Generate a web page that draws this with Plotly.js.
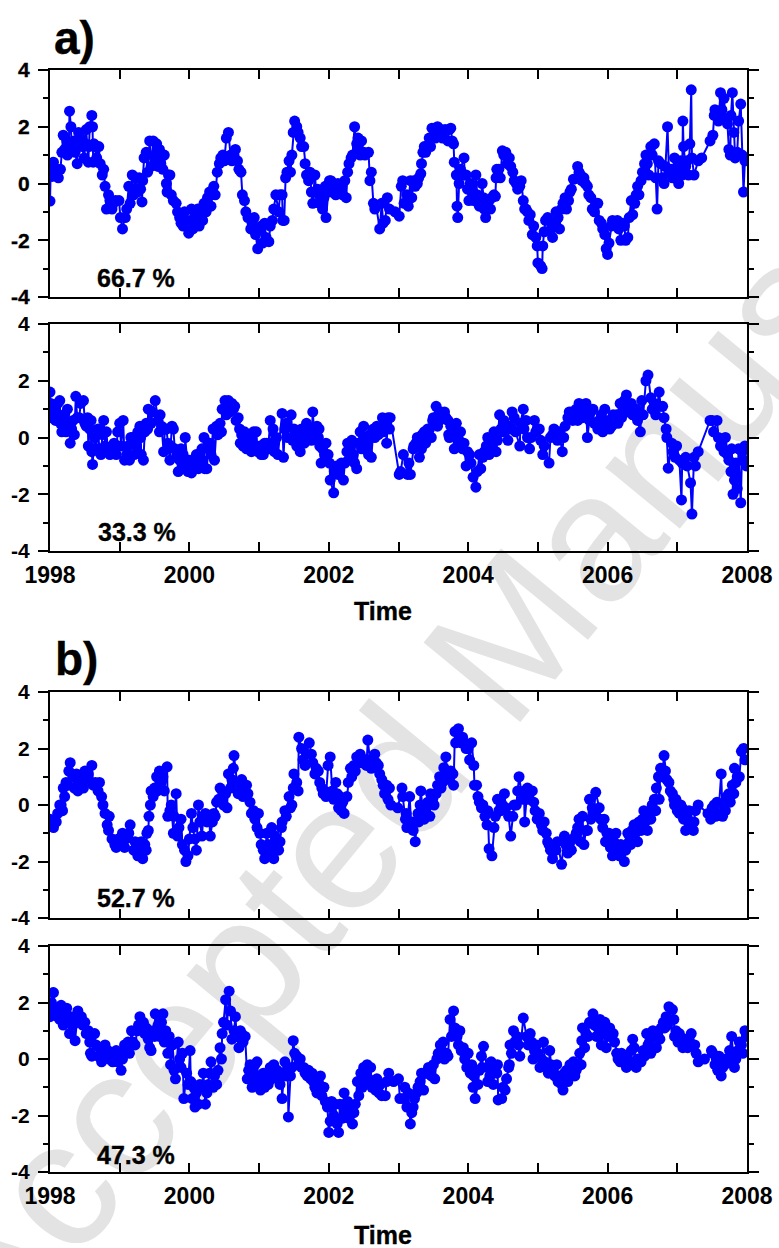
<!DOCTYPE html>
<html>
<head>
<meta charset="utf-8">
<script src="https://cdn.plot.ly/plotly-3.0.1.min.js"></script>
<style>
html,body{margin:0;padding:0;background:#fff;}
#wrap{position:relative;width:779px;height:1248px;overflow:hidden;}
#wm{position:absolute;left:0;top:0;z-index:0;}
#chart{position:absolute;left:0;top:0;z-index:1;width:779px;height:1248px;}
#chart .xtick text, #chart .ytick text, #chart .annotation-text{stroke:#000;stroke-width:0.35px;}
</style>
</head>
<body>
<div id="wrap">
<svg id="wm" width="779" height="1248" xmlns="http://www.w3.org/2000/svg">
<text id="wmtext" x="-4" y="1358" transform="rotate(-50.5 -4 1358)" font-family="Liberation Sans, Arial, sans-serif" font-size="182" fill="#e3e3e3">Accepted Manuscript</text>
</svg>
<div id="chart"></div>
</div>
<script>
// ---------- tick labels ----------
const yearTicks = [1998,1999,2000,2001,2002,2003,2004,2005,2006,2007,2008];
const yearLabels = ['1998','','2000','','2002','','2004','','2006','','2008'];
const yTicks = [-4,-2,0,2,4];
const yTickLabels = ['-4','-2','0','2','4'];
const yMinorTicks = [-3,-1,1,3];
const panelLabels = ['a)','b)'];
const percentLabels = ['66.7 %','33.3 %','52.7 %','47.3 %'];
const xTitle = 'Time';

// ---------- panel a, upper ----------
const a1T = [1998.00,1998.01,1998.03,1998.05,1998.07,1998.10,1998.12,1998.15,1998.17,1998.19,1998.21,1998.24,1998.25,1998.27,1998.28,1998.30,1998.31,1998.34,1998.36,1998.39,1998.41,1998.44,1998.46,1998.49,1998.51,1998.52,1998.55,1998.56,1998.57,1998.60,1998.61,1998.62,1998.63,1998.65,1998.67,1998.70,1998.72,1998.75,1998.77,1998.79,1998.81,1998.84,1998.86,1998.89,1998.91,1998.94,1998.99,1999.01,1999.04,1999.08,1999.10,1999.13,1999.15,1999.18,1999.20,1999.23,1999.25,1999.28,1999.30,1999.32,1999.33,1999.35,1999.38,1999.40,1999.43,1999.45,1999.48,1999.50,1999.53,1999.55,1999.57,1999.59,1999.62,1999.64,1999.67,1999.68,1999.70,1999.72,1999.74,1999.77,1999.81,1999.83,1999.86,1999.88,1999.91,1999.93,1999.95,1999.99,2000.01,2000.03,2000.05,2000.07,2000.10,2000.12,2000.14,2000.16,2000.19,2000.21,2000.24,2000.26,2000.29,2000.31,2000.35,2000.37,2000.40,2000.43,2000.45,2000.48,2000.50,2000.53,2000.56,2000.59,2000.61,2000.64,2000.66,2000.69,2000.71,2000.74,2000.76,2000.79,2000.81,2000.84,2000.88,2000.90,2000.93,2000.95,2000.98,2001.00,2001.03,2001.05,2001.08,2001.10,2001.14,2001.16,2001.19,2001.21,2001.24,2001.28,2001.30,2001.33,2001.34,2001.36,2001.38,2001.40,2001.43,2001.45,2001.47,2001.49,2001.51,2001.54,2001.56,2001.59,2001.61,2001.64,2001.66,2001.68,2001.71,2001.73,2001.75,2001.77,2001.80,2001.82,2001.84,2001.86,2001.87,2001.89,2001.91,2001.93,2001.95,2001.96,2001.99,2002.01,2002.03,2002.05,2002.08,2002.10,2002.13,2002.15,2002.18,2002.20,2002.23,2002.25,2002.27,2002.29,2002.32,2002.34,2002.37,2002.40,2002.41,2002.42,2002.45,2002.47,2002.50,2002.52,2002.57,2002.59,2002.61,2002.64,2002.66,2002.68,2002.73,2002.76,2002.78,2002.81,2002.84,2002.87,2002.95,2003.01,2003.04,2003.06,2003.08,2003.12,2003.14,2003.17,2003.19,2003.22,2003.24,2003.27,2003.29,2003.32,2003.33,2003.35,2003.37,2003.39,2003.40,2003.44,2003.46,2003.48,2003.51,2003.53,2003.56,2003.58,2003.61,2003.63,2003.67,2003.71,2003.73,2003.75,2003.77,2003.79,2003.80,2003.83,2003.84,2003.85,2003.87,2003.89,2003.94,2003.95,2003.97,2003.99,2004.01,2004.03,2004.06,2004.08,2004.11,2004.13,2004.16,2004.18,2004.20,2004.22,2004.23,2004.25,2004.28,2004.30,2004.32,2004.34,2004.37,2004.39,2004.40,2004.41,2004.44,2004.46,2004.49,2004.51,2004.54,2004.56,2004.59,2004.61,2004.64,2004.66,2004.69,2004.71,2004.74,2004.76,2004.79,2004.81,2004.83,2004.85,2004.87,2004.89,2004.92,2004.94,2004.97,2004.99,2005.00,2005.04,2005.06,2005.07,2005.09,2005.11,2005.14,2005.19,2005.21,2005.24,2005.26,2005.29,2005.31,2005.34,2005.36,2005.39,2005.41,2005.44,2005.46,2005.48,2005.51,2005.57,2005.59,2005.61,2005.63,2005.66,2005.68,2005.71,2005.73,2005.76,2005.78,2005.81,2005.83,2005.86,2005.88,2005.91,2005.93,2005.96,2005.98,2006.00,2006.02,2006.05,2006.07,2006.11,2006.14,2006.16,2006.19,2006.21,2006.24,2006.26,2006.29,2006.31,2006.34,2006.36,2006.39,2006.41,2006.43,2006.45,2006.48,2006.50,2006.53,2006.55,2006.57,2006.59,2006.62,2006.64,2006.67,2006.69,2006.71,2006.73,2006.76,2006.78,2006.81,2006.83,2006.86,2006.88,2006.91,2006.93,2006.96,2006.98,2007.00,2007.02,2007.05,2007.07,2007.08,2007.09,2007.12,2007.14,2007.16,2007.18,2007.20,2007.21,2007.24,2007.30,2007.35,2007.47,2007.51,2007.53,2007.54,2007.57,2007.59,2007.62,2007.64,2007.67,2007.69,2007.72,2007.74,2007.76,2007.77,2007.79,2007.81,2007.83,2007.86,2007.88,2007.91,2007.93,2007.95,2007.97];
const a1V = [-0.62,0.45,0.25,0.75,0.3,0.5,0.2,0.5,1.1,1.7,1.2,1.5,1.0,1.3,2.55,2.0,1.3,1.5,1.1,0.7,1.8,1.6,1.3,0.9,1.4,1.9,0.75,1.3,2.0,2.4,2.0,0.75,1.4,1.3,0.9,1.3,0.7,0.3,0.5,-0.1,-0.9,-0.4,-0.6,-0.9,-0.7,-0.6,-0.6,-1.2,-1.6,-1.2,-0.9,-0.1,-0.7,0.3,-0.4,0.2,-0.3,0.2,-0.2,-0.65,0.1,0.9,1.1,0.4,1.5,0.6,1.5,0.9,1.4,0.6,1.2,0.7,0.5,1.0,0.0,-0.3,0.3,0.3,-0.4,-0.6,-0.7,-1.0,-1.2,-1.4,-1.5,-1.0,-1.3,-1.75,-1.3,-0.9,-1.6,-1.0,-1.4,-0.9,-1.5,-1.0,-1.3,-0.7,-1.0,-0.5,-0.3,-0.8,-0.1,-0.4,0.4,0.7,0.9,1.0,0.8,1.6,1.8,1.0,0.8,1.0,1.2,0.8,0.5,0.4,-0.4,-0.6,-1.0,-1.2,-1.6,-1.4,-1.2,-1.8,-2.3,-1.6,-1.5,-2.1,-1.4,-1.9,-2.05,-1.5,-1.3,-0.9,-0.4,-1.0,-0.4,-0.4,-1.3,-1.3,0.2,0.4,0.8,0.4,1.0,1.8,2.2,2.0,1.8,1.6,1.3,1.3,0.7,0.3,0.1,0.4,-0.3,-0.7,0.3,-0.3,-0.2,-0.4,-0.7,-0.4,-0.9,-0.5,-0.1,-1.2,-0.3,0.1,0.1,-0.3,-0.1,-0.4,0.0,-0.3,-0.1,-0.4,0.1,-0.5,0.4,0.7,0.9,1.0,2.0,1.4,1.1,1.6,1.0,1.5,1.1,1.0,1.1,0.1,0.4,-0.7,-0.9,-0.8,-1.6,-0.7,-1.4,-1.3,-0.5,-0.9,-1.0,-1.15,-0.1,0.1,-0.7,-0.4,-0.8,0.1,-0.5,0.1,-0.1,0.0,0.2,0.35,0.7,1.1,1.3,1.1,1.3,1.6,1.3,1.95,1.9,1.6,2.0,1.8,1.9,1.6,1.9,1.5,1.9,1.95,1.5,1.4,0.75,0.3,-0.8,-1.2,0.0,0.5,0.9,0.3,0.3,-0.2,-0.6,0.0,-0.3,-0.6,0.3,-0.4,-0.8,-0.6,0.0,-0.5,-0.9,-1.2,-0.9,-0.6,-0.9,-0.5,-0.4,-0.45,0.2,0.5,0.5,0.2,1.15,1.0,1.1,0.7,0.9,0.6,0.4,0.1,0.0,-0.2,-0.1,0.1,-0.6,-0.9,-0.9,-1.0,-1.3,-1.1,-1.8,-1.5,-1.9,-2.2,-2.8,-2.9,-3.0,-2.2,-1.7,-1.3,-1.2,-1.6,-1.9,-1.4,-1.0,-1.2,-1.6,-0.9,-0.7,-0.5,-0.9,-0.6,-0.3,-0.2,0.15,0.6,0.4,0.3,0.1,0.2,0.0,-0.1,-0.4,-0.5,-0.9,-1.0,-0.7,-0.7,-1.3,-1.4,-1.6,-1.8,-2.3,-2.5,-2.1,-1.5,-1.3,-1.4,-1.3,-1.6,-2.0,-1.4,-1.5,-2.0,-1.9,-1.2,-0.6,-1.1,-0.7,-0.4,-0.1,-0.4,0.1,0.4,0.7,1.0,0.7,0.3,1.3,1.0,1.4,0.2,-0.9,0.8,0.7,0.2,0.0,0.6,2.0,0.4,0.5,0.2,0.9,0.4,0.6,0.0,0.8,0.3,2.2,1.3,0.6,0.8,0.3,1.4,3.3,0.9,0.3,0.8,0.9,1.5,1.7,2.4,2.6,2.4,2.2,3.2,2.6,3.0,2.3,2.1,1.2,1.0,2.4,3.2,1.8,0.9,1.1,2.2,2.8,1.0,-0.3,0.8];

// ---------- panel a, lower ----------
const a2T = [1998.00,1998.01,1998.02,1998.06,1998.08,1998.11,1998.13,1998.14,1998.15,1998.17,1998.19,1998.21,1998.23,1998.25,1998.27,1998.29,1998.31,1998.33,1998.35,1998.37,1998.39,1998.42,1998.44,1998.48,1998.50,1998.52,1998.54,1998.55,1998.57,1998.59,1998.60,1998.61,1998.64,1998.66,1998.69,1998.71,1998.73,1998.75,1998.77,1998.79,1998.81,1998.83,1998.86,1998.88,1998.90,1998.92,1998.95,1998.97,1999.00,1999.02,1999.05,1999.07,1999.10,1999.12,1999.14,1999.16,1999.19,1999.21,1999.24,1999.26,1999.29,1999.30,1999.31,1999.34,1999.36,1999.38,1999.40,1999.41,1999.45,1999.47,1999.51,1999.55,1999.57,1999.58,1999.60,1999.63,1999.65,1999.67,1999.69,1999.72,1999.73,1999.75,1999.77,1999.79,1999.82,1999.84,1999.86,1999.88,1999.91,1999.93,1999.94,1999.98,2000.00,2000.03,2000.05,2000.08,2000.10,2000.13,2000.15,2000.18,2000.19,2000.21,2000.22,2000.25,2000.27,2000.29,2000.31,2000.34,2000.36,2000.39,2000.41,2000.44,2000.46,2000.47,2000.51,2000.53,2000.56,2000.58,2000.61,2000.63,2000.65,2000.67,2000.70,2000.72,2000.73,2000.75,2000.77,2000.79,2000.82,2000.84,2000.87,2000.89,2000.92,2000.94,2000.96,2000.98,2001.01,2001.03,2001.06,2001.08,2001.11,2001.13,2001.16,2001.18,2001.20,2001.22,2001.25,2001.27,2001.33,2001.35,2001.37,2001.39,2001.41,2001.46,2001.48,2001.50,2001.52,2001.54,2001.56,2001.59,2001.61,2001.63,2001.65,2001.68,2001.70,2001.73,2001.75,2001.77,2001.79,2001.83,2001.85,2001.86,2001.87,2001.89,2001.91,2001.94,2001.96,2001.99,2002.01,2002.02,2002.07,2002.08,2002.11,2002.13,2002.16,2002.18,2002.21,2002.23,2002.26,2002.27,2002.28,2002.31,2002.33,2002.35,2002.37,2002.40,2002.42,2002.45,2002.47,2002.50,2002.52,2002.55,2002.57,2002.59,2002.61,2002.64,2002.66,2002.69,2002.71,2002.77,2002.78,2002.81,2002.83,2002.85,2002.87,2002.88,2003.01,2003.03,2003.07,2003.13,2003.15,2003.17,2003.21,2003.22,2003.25,2003.27,2003.30,2003.33,2003.34,2003.37,2003.39,2003.42,2003.44,2003.47,2003.49,2003.50,2003.54,2003.56,2003.59,2003.61,2003.66,2003.68,2003.71,2003.72,2003.73,2003.75,2003.78,2003.80,2003.83,2003.84,2003.85,2003.87,2003.89,2003.92,2003.94,2003.97,2003.99,2004.02,2004.04,2004.07,2004.11,2004.13,2004.16,2004.18,2004.21,2004.23,2004.26,2004.28,2004.30,2004.32,2004.35,2004.37,2004.40,2004.42,2004.45,2004.47,2004.49,2004.51,2004.57,2004.59,2004.61,2004.63,2004.66,2004.68,2004.74,2004.75,2004.79,2004.80,2004.83,2004.85,2004.88,2004.90,2004.95,2004.97,2005.02,2005.04,2005.07,2005.09,2005.16,2005.18,2005.21,2005.23,2005.28,2005.30,2005.35,2005.37,2005.39,2005.43,2005.45,2005.48,2005.50,2005.55,2005.57,2005.59,2005.61,2005.64,2005.66,2005.69,2005.71,2005.74,2005.76,2005.79,2005.81,2005.86,2005.88,2005.91,2005.93,2005.96,2005.98,2006.01,2006.03,2006.06,2006.08,2006.13,2006.15,2006.18,2006.20,2006.22,2006.24,2006.27,2006.29,2006.34,2006.36,2006.41,2006.43,2006.47,2006.49,2006.51,2006.55,2006.58,2006.62,2006.64,2006.67,2006.69,2006.74,2006.76,2006.79,2006.81,2006.84,2006.85,2006.87,2006.92,2006.94,2006.97,2006.99,2007.03,2007.06,2007.07,2007.12,2007.14,2007.19,2007.21,2007.24,2007.26,2007.30,2007.47,2007.50,2007.52,2007.57,2007.59,2007.62,2007.64,2007.67,2007.69,2007.72,2007.74,2007.77,2007.78,2007.80,2007.82,2007.84,2007.86,2007.88,2007.91,2007.93,2007.95,2007.97,2007.99];
const a2V = [1.6,1.2,0.7,1.0,0.6,1.2,0.8,1.3,0.5,0.2,0.4,0.8,0.2,1.0,0.5,-0.2,0.3,0.6,0.1,1.45,0.7,0.7,1.2,1.3,0.5,0.4,0.7,-0.3,0.3,0.6,-0.5,-0.95,0.0,-0.4,0.3,-0.5,-0.6,0.1,0.6,-0.3,0.2,-0.5,-0.6,-0.4,-0.5,-0.2,-0.6,0.2,0.5,-0.3,0.6,-0.8,-0.6,-0.3,-0.8,0.0,0.0,-0.6,-0.3,0.2,0.4,0.0,-0.6,-0.8,0.2,0.5,0.3,1.0,0.5,0.9,1.3,0.6,0.2,0.8,0.4,-0.5,0.3,0.3,-0.2,-0.8,-0.3,0.4,0.3,-0.4,-0.6,-1.2,-0.8,-0.4,-0.6,-1.0,0.0,-1.2,-0.8,-1.25,-0.9,-1.0,-0.6,-1.1,-0.8,-0.4,-0.8,0.0,-1.1,-1.1,-0.4,-0.2,-0.6,0.3,-0.8,0.4,0.1,0.5,0.2,1.0,1.3,0.8,1.3,0.9,1.2,1.0,1.1,0.6,0.7,0.3,-0.2,0.1,-0.3,0.2,-0.4,0.0,-0.2,-0.5,0.2,-0.4,0.2,-0.5,-0.3,-0.6,-0.6,-0.2,-0.2,-0.4,0.6,-0.2,0.3,-0.5,0.0,-0.6,0.85,-0.7,0.3,0.5,0.0,0.8,-0.1,0.3,0.0,-0.3,0.1,-0.5,0.3,0.1,-0.2,0.5,0.1,0.3,-0.1,0.9,0.2,0.4,0.0,0.3,-0.3,-0.9,-0.4,-0.6,-0.2,-0.6,-0.9,-1.5,-1.95,-1.2,-1.0,-1.3,-1.0,-0.9,-1.5,-0.9,-0.5,-0.2,-0.8,-0.4,-0.1,-0.6,-0.9,-1.1,-0.2,0.2,-0.4,0.4,0.0,-0.3,-0.6,0.1,-0.7,0.3,0.0,0.4,0.1,0.7,0.2,0.6,-0.2,0.7,0.3,0.7,-1.3,-1.2,-0.6,-1.3,-0.9,-1.3,-0.4,-0.3,-0.2,0.0,-0.7,-0.4,0.1,0.2,-0.2,0.3,0.27,0.0,0.6,0.7,1.1,0.4,0.6,0.9,0.9,0.7,0.6,0.1,0.0,0.4,0.2,-0.4,0.5,0.0,-0.3,-0.1,0.2,-0.4,-0.2,-1.0,-0.5,-0.6,-0.9,-1.4,-1.75,-1.2,-0.6,-1.1,-0.7,-0.5,-0.3,0.0,-0.6,-0.3,-0.4,0.2,-0.5,-0.1,0.8,0.3,0.2,0.6,-0.1,0.4,0.3,0.9,0.7,0.2,-0.3,0.5,1.0,0.3,0.6,0.0,-0.4,0.0,0.6,0.2,0.3,-0.1,-0.6,-0.3,-0.9,0.0,0.1,0.3,-0.1,0.2,-0.5,0.0,0.4,0.7,0.9,0.9,0.6,1.0,0.6,1.2,0.8,0.7,1.0,1.2,0.0,0.6,0.9,1.0,0.5,0.3,0.6,0.8,0.2,1.0,0.5,0.6,0.3,0.4,0.8,0.8,0.5,1.2,0.7,1.0,1.3,1.5,0.9,1.2,0.8,1.0,0.6,0.2,1.3,0.8,2.0,2.2,1.4,1.0,1.2,0.8,1.6,1.1,1.1,0.7,0.3,0.0,-1.08,-0.2,-0.5,-0.7,-0.3,-0.8,-2.2,-0.9,-0.7,-1.0,-1.6,-2.7,-0.7,-1.0,-0.5,0.6,0.6,0.2,0.6,0.0,-0.3,-0.1,-0.5,0.0,-0.6,-0.8,-1.2,-0.4,-2.0,-1.5,-0.9,-1.8,-0.4,-2.3,-0.5,-0.8,-0.3,-1.0];

// ---------- panel b, upper ----------
const b1T = [1998.00,1998.01,1998.05,1998.09,1998.11,1998.14,1998.16,1998.18,1998.19,1998.21,1998.23,1998.26,1998.27,1998.29,1998.33,1998.35,1998.38,1998.40,1998.42,1998.44,1998.48,1998.50,1998.53,1998.55,1998.60,1998.62,1998.65,1998.69,1998.71,1998.74,1998.76,1998.79,1998.82,1998.84,1998.85,1998.89,1998.93,1998.95,1998.98,1999.02,1999.04,1999.07,1999.09,1999.13,1999.15,1999.20,1999.22,1999.24,1999.26,1999.29,1999.31,1999.33,1999.36,1999.38,1999.39,1999.41,1999.42,1999.44,1999.45,1999.48,1999.50,1999.53,1999.54,1999.57,1999.59,1999.62,1999.64,1999.68,1999.69,1999.72,1999.74,1999.77,1999.78,1999.81,1999.83,1999.85,1999.88,1999.90,1999.93,1999.95,1999.98,2000.00,2000.03,2000.05,2000.08,2000.10,2000.13,2000.15,2000.18,2000.20,2000.23,2000.25,2000.28,2000.30,2000.33,2000.35,2000.37,2000.39,2000.42,2000.44,2000.47,2000.49,2000.52,2000.54,2000.56,2000.59,2000.61,2000.63,2000.64,2000.68,2000.70,2000.73,2000.75,2000.77,2000.79,2000.82,2000.84,2000.87,2000.89,2000.92,2000.94,2000.97,2000.99,2001.01,2001.03,2001.06,2001.08,2001.11,2001.13,2001.16,2001.18,2001.21,2001.23,2001.26,2001.28,2001.30,2001.32,2001.33,2001.37,2001.39,2001.43,2001.45,2001.47,2001.49,2001.50,2001.54,2001.56,2001.57,2001.61,2001.63,2001.66,2001.68,2001.72,2001.75,2001.77,2001.80,2001.82,2001.85,2001.87,2001.90,2001.92,2001.94,2001.96,2001.99,2002.02,2002.05,2002.07,2002.10,2002.12,2002.14,2002.16,2002.18,2002.20,2002.22,2002.26,2002.28,2002.31,2002.33,2002.36,2002.38,2002.40,2002.42,2002.45,2002.47,2002.52,2002.54,2002.56,2002.59,2002.61,2002.66,2002.68,2002.71,2002.73,2002.76,2002.78,2002.80,2002.83,2002.85,2002.87,2002.89,2002.99,2003.05,2003.06,2003.10,2003.11,2003.12,2003.16,2003.18,2003.21,2003.22,2003.24,2003.28,2003.29,2003.31,2003.32,2003.35,2003.37,2003.40,2003.42,2003.45,2003.46,2003.49,2003.51,2003.54,2003.56,2003.59,2003.61,2003.63,2003.65,2003.68,2003.70,2003.73,2003.75,2003.78,2003.79,2003.81,2003.82,2003.86,2003.90,2003.92,2003.95,2003.97,2004.00,2004.02,2004.05,2004.08,2004.09,2004.12,2004.14,2004.16,2004.19,2004.21,2004.24,2004.27,2004.28,2004.30,2004.34,2004.37,2004.39,2004.42,2004.44,2004.47,2004.49,2004.52,2004.54,2004.58,2004.61,2004.64,2004.66,2004.69,2004.71,2004.73,2004.78,2004.80,2004.81,2004.83,2004.85,2004.88,2004.90,2004.92,2004.94,2004.96,2004.99,2005.02,2005.05,2005.07,2005.09,2005.12,2005.14,2005.16,2005.18,2005.21,2005.23,2005.26,2005.28,2005.34,2005.38,2005.40,2005.43,2005.45,2005.48,2005.50,2005.55,2005.57,2005.59,2005.61,2005.64,2005.66,2005.69,2005.71,2005.74,2005.76,2005.78,2005.80,2005.83,2005.88,2005.90,2005.93,2005.95,2005.97,2005.99,2006.02,2006.04,2006.07,2006.09,2006.12,2006.14,2006.17,2006.19,2006.24,2006.26,2006.29,2006.31,2006.33,2006.35,2006.38,2006.40,2006.43,2006.45,2006.48,2006.50,2006.52,2006.54,2006.57,2006.59,2006.62,2006.64,2006.67,2006.69,2006.70,2006.73,2006.74,2006.76,2006.78,2006.81,2006.83,2006.85,2006.88,2006.90,2006.93,2006.95,2006.96,2006.98,2007.00,2007.03,2007.05,2007.07,2007.09,2007.12,2007.14,2007.17,2007.19,2007.23,2007.24,2007.26,2007.30,2007.44,2007.48,2007.50,2007.53,2007.55,2007.57,2007.59,2007.63,2007.65,2007.67,2007.69,2007.71,2007.74,2007.76,2007.79,2007.81,2007.82,2007.84,2007.86,2007.89,2007.92,2007.95,2007.97];
const b1V = [-0.5,-0.7,-0.8,-0.6,-0.3,0.0,0.0,-0.2,0.6,0.3,0.8,0.7,1.2,1.5,1.0,0.6,1.1,0.5,0.7,0.9,0.6,1.2,0.9,1.1,1.4,0.7,0.8,0.5,0.8,0.3,0.0,-0.3,-0.7,-0.9,-0.4,-1.2,-1.4,-1.5,-1.2,-1.3,-1.0,-1.5,-1.2,-1.0,-0.7,-1.6,-1.3,-1.4,-1.8,-1.5,-1.3,-1.9,-1.4,-1.6,-1.0,-0.9,-0.4,0.0,0.5,0.3,0.6,1.0,0.5,1.2,0.8,1.0,0.5,1.35,-0.4,-0.2,0.0,-1.0,-0.4,0.4,-1.1,-0.8,-0.5,-1.4,-1.6,-2.0,-1.8,-1.2,-0.3,-0.8,-1.2,-1.6,0.0,-0.6,-1.1,-0.4,-0.3,-0.6,-0.4,-1.1,-0.6,-0.3,-0.4,0.1,0.2,0.6,0.5,0.0,0.4,-0.1,1.1,0.6,0.9,1.3,1.75,0.8,0.4,0.5,0.9,0.3,0.7,0.7,0.4,0.1,-0.3,-0.2,-0.5,-0.8,-0.3,-1.0,-1.4,-1.6,-1.9,-1.0,-1.4,-1.7,-0.8,-1.9,-1.1,-1.4,-1.6,-1.3,-0.8,-0.6,-0.2,-0.4,0.3,-0.1,0.0,0.6,1.1,0.8,0.5,2.4,2.0,1.6,1.4,1.8,2.2,1.8,1.5,1.1,1.3,1.2,0.8,0.6,0.4,0.5,0.3,1.4,1.7,0.5,0.2,0.8,0.4,-0.1,0.3,-0.2,0.1,-0.3,0.3,0.8,1.3,1.0,1.4,1.2,1.7,1.5,1.8,1.5,1.6,1.4,2.3,1.6,1.3,1.8,1.5,1.4,1.1,0.9,0.7,0.4,0.7,0.2,0.6,0.0,-0.1,0.6,0.3,-0.5,-0.3,-0.8,0.3,-0.6,-0.9,-0.6,-1.3,-0.3,-0.6,0.0,0.5,-0.2,-0.5,-0.1,0.1,-0.4,0.4,0.2,0.0,0.4,0.7,1.0,0.6,0.8,1.32,1.7,1.0,0.9,1.2,1.1,0.7,2.6,2.2,2.7,2.2,2.4,2.2,2.0,2.0,1.6,2.2,1.4,0.7,0.7,0.3,0.1,-0.1,0.0,-0.4,-0.7,-0.2,-1.55,-1.8,-0.8,-0.4,0.2,-0.2,-0.2,0.0,0.4,-0.1,-0.4,-1.1,-0.4,0.0,0.0,0.5,1.0,0.2,0.5,-0.6,0.2,0.6,0.2,0.5,0.5,0.1,-0.2,-0.5,-0.3,-0.7,-0.9,-0.6,-1.0,-1.3,-1.4,-1.6,-1.9,-1.5,-1.6,-1.3,-2.1,-1.1,-1.4,-1.7,-1.4,-1.6,-1.2,-1.0,-0.8,-0.5,-1.3,-0.4,-1.4,-0.9,-0.9,0.2,-0.5,-0.1,-0.3,0.45,-0.1,-0.5,-0.8,-0.5,-1.3,-1.0,-1.0,-1.5,-1.8,-1.3,-1.0,-1.5,-1.8,-1.4,-2.0,-1.6,-1.0,-1.3,-1.4,-0.9,-0.7,-1.0,-1.3,-0.6,-0.9,-0.5,-0.2,-0.6,-0.9,-0.3,-0.5,0.0,0.2,-0.2,0.6,1.0,0.2,1.3,1.0,1.75,1.2,0.9,0.8,0.5,0.4,0.2,0.0,0.2,-0.2,-0.3,0.0,-0.1,-0.5,-0.9,-0.4,-0.2,-0.6,-0.9,-0.6,-0.2,0.0,-0.3,-0.5,-0.1,0.0,-0.4,0.1,-0.3,1.1,-0.4,0.0,-0.2,0.3,0.4,0.1,0.7,0.4,1.3,0.8,1.0,1.0,1.9,2.0,1.6];

// ---------- panel b, lower ----------
const b2T = [1998.00,1998.02,1998.05,1998.07,1998.09,1998.11,1998.14,1998.16,1998.19,1998.21,1998.24,1998.26,1998.28,1998.30,1998.33,1998.35,1998.36,1998.40,1998.42,1998.45,1998.47,1998.50,1998.52,1998.55,1998.57,1998.58,1998.60,1998.64,1998.66,1998.69,1998.71,1998.74,1998.79,1998.81,1998.83,1998.85,1998.88,1998.90,1998.93,1998.95,1998.97,1999.00,1999.02,1999.04,1999.07,1999.09,1999.12,1999.14,1999.17,1999.19,1999.22,1999.25,1999.27,1999.29,1999.31,1999.34,1999.36,1999.38,1999.41,1999.43,1999.45,1999.48,1999.50,1999.51,1999.55,1999.57,1999.60,1999.62,1999.64,1999.66,1999.69,1999.71,1999.73,1999.76,1999.78,1999.80,1999.84,1999.86,1999.88,1999.90,1999.92,1999.96,1999.98,2000.01,2000.02,2000.04,2000.06,2000.08,2000.10,2000.13,2000.15,2000.18,2000.20,2000.23,2000.25,2000.27,2000.29,2000.31,2000.34,2000.36,2000.39,2000.41,2000.44,2000.46,2000.47,2000.49,2000.52,2000.54,2000.57,2000.59,2000.61,2000.64,2000.66,2000.68,2000.71,2000.73,2000.75,2000.77,2000.80,2000.83,2000.85,2000.87,2000.88,2000.90,2000.92,2000.94,2000.97,2000.99,2001.02,2001.04,2001.06,2001.08,2001.11,2001.13,2001.16,2001.18,2001.21,2001.23,2001.26,2001.28,2001.30,2001.32,2001.33,2001.37,2001.39,2001.41,2001.42,2001.45,2001.47,2001.49,2001.51,2001.54,2001.56,2001.59,2001.61,2001.64,2001.66,2001.69,2001.71,2001.74,2001.76,2001.78,2001.80,2001.83,2001.85,2001.88,2001.90,2001.93,2001.95,2001.98,2002.00,2002.02,2002.04,2002.07,2002.09,2002.12,2002.14,2002.16,2002.19,2002.22,2002.24,2002.27,2002.29,2002.31,2002.34,2002.36,2002.38,2002.41,2002.43,2002.46,2002.48,2002.50,2002.53,2002.55,2002.57,2002.60,2002.62,2002.65,2002.67,2002.69,2002.72,2002.74,2002.76,2002.81,2002.83,2002.86,2002.93,2003.00,2003.02,2003.07,2003.09,2003.12,2003.14,2003.17,2003.19,2003.21,2003.23,2003.26,2003.28,2003.31,2003.33,2003.36,2003.38,2003.41,2003.43,2003.45,2003.47,2003.50,2003.52,2003.55,2003.57,2003.60,2003.62,2003.64,2003.66,2003.69,2003.71,2003.74,2003.76,2003.79,2003.81,2003.84,2003.86,2003.88,2003.90,2003.93,2003.95,2003.98,2004.00,2004.03,2004.05,2004.07,2004.08,2004.10,2004.14,2004.16,2004.19,2004.20,2004.22,2004.27,2004.28,2004.31,2004.33,2004.36,2004.38,2004.41,2004.42,2004.43,2004.48,2004.50,2004.53,2004.55,2004.58,2004.59,2004.60,2004.62,2004.65,2004.67,2004.70,2004.72,2004.74,2004.79,2004.84,2004.86,2004.89,2004.91,2004.93,2004.95,2004.98,2005.00,2005.03,2005.05,2005.08,2005.10,2005.13,2005.15,2005.17,2005.19,2005.22,2005.24,2005.27,2005.29,2005.32,2005.34,2005.36,2005.38,2005.41,2005.43,2005.46,2005.48,2005.51,2005.53,2005.55,2005.57,2005.60,2005.62,2005.63,2005.64,2005.67,2005.69,2005.72,2005.74,2005.79,2005.81,2005.84,2005.86,2005.89,2005.91,2005.94,2005.96,2005.98,2006.00,2006.03,2006.05,2006.08,2006.10,2006.13,2006.15,2006.18,2006.20,2006.22,2006.24,2006.27,2006.29,2006.32,2006.34,2006.36,2006.38,2006.41,2006.43,2006.46,2006.48,2006.51,2006.53,2006.56,2006.58,2006.60,2006.62,2006.65,2006.67,2006.70,2006.72,2006.75,2006.77,2006.80,2006.82,2006.84,2006.86,2006.88,2006.93,2006.95,2006.96,2006.98,2007.01,2007.03,2007.06,2007.08,2007.11,2007.13,2007.15,2007.17,2007.20,2007.22,2007.25,2007.27,2007.30,2007.39,2007.49,2007.51,2007.54,2007.56,2007.58,2007.60,2007.63,2007.65,2007.68,2007.70,2007.73,2007.75,2007.78,2007.80,2007.82,2007.84,2007.87,2007.89,2007.92,2007.94,2007.97,2007.99];
const b2V = [1.5,2.0,2.35,1.7,1.8,1.5,1.4,1.9,1.2,1.6,1.8,1.3,0.9,1.5,1.2,1.4,0.65,1.7,1.3,1.5,1.2,1.3,0.9,1.0,0.6,0.2,0.1,0.9,0.5,0.1,0.4,-0.1,0.5,0.2,0.3,0.0,0.1,-0.1,0.0,0.3,-0.1,0.2,-0.4,0.0,0.5,0.3,0.6,0.2,1.0,0.6,0.5,1.0,1.2,1.5,1.1,1.3,0.9,1.1,0.7,0.4,0.3,1.0,0.8,1.6,1.2,0.8,1.3,1.6,0.6,1.0,0.2,0.8,-0.2,0.5,-0.4,-0.7,0.6,0.0,-0.3,0.2,-1.4,-0.5,-0.9,0.3,-0.8,-1.4,-1.0,-1.7,-1.2,-1.6,-0.9,-1.0,-0.5,-1.6,-1.2,-0.9,-0.5,-0.1,-1.0,-0.6,-0.9,-0.4,0.4,0.0,0.9,1.3,2.1,1.2,2.4,1.7,0.7,1.0,1.5,0.8,0.4,1.0,0.9,0.6,0.8,-0.7,-0.4,-0.2,-0.7,-1.0,-0.5,-0.2,-0.1,-0.8,-1.1,-0.6,-0.5,-1.0,-0.6,-0.9,-0.3,-0.7,-0.2,-0.5,-0.4,-0.7,-0.9,-0.5,-1.4,-0.1,-0.6,-0.3,-2.05,-0.6,-0.3,0.65,0.2,0.1,-0.2,0.0,-0.3,-0.3,-0.5,-0.6,-0.4,-0.7,-0.5,-0.8,-1.0,-1.2,-0.8,-0.6,-1.3,-1.0,-1.5,-1.7,-2.6,-2.2,-1.5,-2.0,-1.6,-2.3,-2.6,-1.6,-2.1,-1.2,-1.8,-1.5,-2.1,-1.8,-2.3,-1.9,-1.6,-0.8,-1.3,-0.5,-1.0,-0.3,-0.8,-0.2,-0.7,-0.3,-1.0,-0.8,-1.1,-0.7,-1.2,-0.9,-1.3,-1.3,-0.8,-0.5,-0.8,-0.7,-1.4,-1.4,-1.0,-1.7,-1.2,-2.3,-1.9,-1.7,-1.4,-1.2,-1.0,-0.8,-0.5,-1.1,-0.5,-0.5,-0.3,-0.4,-0.6,-0.2,-0.7,0.0,0.2,0.5,0.3,0.6,0.0,0.2,0.1,1.4,0.8,1.7,1.1,0.8,0.5,1.0,0.3,0.4,0.0,-0.3,0.2,-0.5,-0.2,-1.0,-0.6,-1.4,-0.9,-0.4,0.1,-0.3,0.45,-0.3,-0.8,-0.6,-0.1,-0.9,-0.3,-0.5,-0.2,-1.45,-1.4,-1.0,-1.1,-0.7,-0.3,-0.2,0.5,0.2,1.0,0.6,0.8,0.5,0.1,1.45,0.8,0.5,0.9,0.6,0.0,0.3,0.5,0.2,-0.3,0.0,0.6,-0.1,-0.3,-0.5,0.3,-0.2,-0.4,-0.6,-0.2,-0.8,-0.6,-0.9,-1.1,-0.5,-0.4,-0.8,-0.2,-0.5,-0.1,-0.6,-0.4,-0.2,0.2,-0.2,0.65,1.1,0.4,0.9,0.8,1.3,1.6,1.2,0.8,1.1,1.4,0.5,1.0,1.3,0.4,0.8,1.1,0.8,0.9,0.6,0.2,0.0,-0.1,0.2,-0.1,0.1,-0.3,0.0,-0.2,0.3,0.7,0.4,-0.3,0.0,0.0,-0.1,0.3,0.1,0.9,0.5,0.6,0.2,1.0,0.8,0.4,0.9,0.7,1.1,1.3,1.1,1.5,1.2,1.85,1.75,1.4,0.8,1.0,0.6,0.9,0.6,0.4,0.7,0.5,0.4,0.7,0.9,0.5,0.5,0.2,-0.1,0.0,0.3,0.2,-0.2,0.0,-0.4,0.1,-0.6,-0.3,-0.2,0.0,-0.1,0.3,0.8,0.2,-0.3,0.0,0.3,0.6,0.5,0.2,1.0,0.8];

// ---------- figure ----------
const W = 779, H = 1248;
const px = x => x / W;
const py = y => 1 - y / H;
const bold = s => s === '' ? '' : '<b>' + s + '</b>';
const plotLeft = 50, plotRight = 747;
const panels = [
  {t: a1T, v: a1V, top: 70,  bottom: 297, labels: false},
  {t: a2T, v: a2V, top: 324, bottom: 551, labels: true},
  {t: b1T, v: b1V, top: 692, bottom: 918, labels: false},
  {t: b2T, v: b2V, top: 946, bottom: 1172, labels: true}
];
const blue = '#0000ff';
const fontFam = 'Liberation Sans, Arial, Helvetica, sans-serif';

const data = panels.map((p, i) => ({
  type: 'scatter', mode: 'lines+markers',
  x: p.t, y: p.v,
  xaxis: i === 0 ? 'x' : 'x' + (i + 1),
  yaxis: i === 0 ? 'y' : 'y' + (i + 1),
  line: {color: blue, width: 2},
  marker: {color: blue, size: 11},
  hoverinfo: 'x+y', showlegend: false
}));

const layout = {
  width: W, height: H, autosize: false,
  margin: {l: 0, r: 0, t: 0, b: 0, pad: 0},
  paper_bgcolor: 'rgba(0,0,0,0)', plot_bgcolor: 'rgba(0,0,0,0)',
  showlegend: false,
  font: {family: fontFam, color: '#000'},
  annotations: []
};

panels.forEach((p, i) => {
  const xk = i === 0 ? 'xaxis' : 'xaxis' + (i + 1);
  const yk = i === 0 ? 'yaxis' : 'yaxis' + (i + 1);
  const yid = i === 0 ? 'y' : 'y' + (i + 1);
  const xid = i === 0 ? 'x' : 'x' + (i + 1);
  layout[xk] = {
    domain: [px(plotLeft), px(plotRight)], anchor: yid,
    range: [1998, 2008], tickmode: 'array', tickvals: yearTicks, ticktext: yearLabels.map(bold),
    ticks: 'inside', ticklen: 9, tickwidth: 2, tickcolor: '#000',
    showline: true, linewidth: 2, linecolor: '#000', mirror: 'ticks',
    showgrid: false, zeroline: false,
    showticklabels: p.labels, ticklabelstandoff: 2,
    tickfont: {family: fontFam, size: 23, color: '#000', weight: 'bold'}
  };
  layout[yk] = {
    domain: [py(p.bottom), py(p.top)], anchor: xid,
    range: [-4, 4], tickmode: 'array', tickvals: yTicks, ticktext: yTickLabels.map(bold),
    ticks: 'outside', ticklen: 10, tickwidth: 2, tickcolor: '#000',
    minor: {tickmode: 'array', tickvals: yMinorTicks, ticks: 'outside', ticklen: 5, tickwidth: 2, tickcolor: '#000', showgrid: false},
    showline: true, linewidth: 2, linecolor: '#000', mirror: 'ticks',
    showgrid: false, zeroline: false, ticklabelstandoff: 4,
    tickfont: {family: fontFam, size: 21, color: '#000', weight: 'bold'}
  };
});

// panel letters
[[panelLabels[0], 52, 38], [panelLabels[1], 53, 659]].forEach(([txt, x, y]) => {
  layout.annotations.push({text: bold(txt), xref: 'paper', yref: 'paper', x: px(x), y: py(y),
    xanchor: 'left', yanchor: 'middle', showarrow: false,
    font: {family: fontFam, size: 46, color: '#000', weight: 'bold'}});
});
// percentages
[[95, 278], [96, 532], [95, 898], [95, 1155]].forEach(([x, y], i) => {
  layout.annotations.push({text: bold(percentLabels[i]), xref: 'paper', yref: 'paper', x: px(x), y: py(y),
    xanchor: 'left', yanchor: 'middle', showarrow: false,
    font: {family: fontFam, size: 25, color: '#000', weight: 'bold'}});
});
// axis titles
[611, 1235].forEach(y => {
  layout.annotations.push({text: bold(xTitle), xref: 'paper', yref: 'paper', x: px(383), y: py(y),
    xanchor: 'center', yanchor: 'middle', showarrow: false,
    font: {family: fontFam, size: 25, color: '#000', weight: 'bold'}});
});

Plotly.newPlot('chart', data, layout, {staticPlot: true, displayModeBar: false});
</script>
</body>
</html>
